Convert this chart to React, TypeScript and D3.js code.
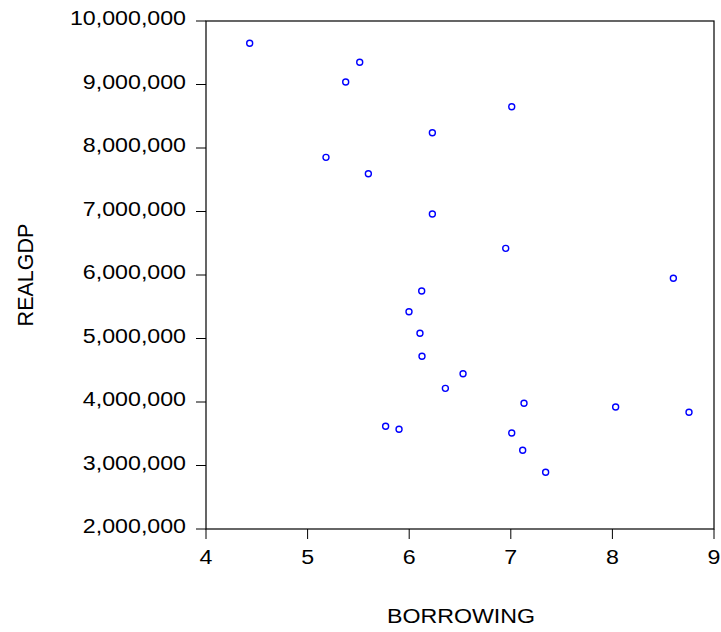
import React from 'react';
import * as d3 from 'd3';

// BORROWING vs REALGDP
const borrowing = [
  4.43, 5.513, 5.375, 7.009, 6.228, 5.181, 5.598, 6.228, 6.95, 8.6, 6.123, 5.998,
  6.106, 6.126, 6.53, 6.356, 7.13, 8.032, 8.754, 5.768, 5.9, 7.009, 7.117, 7.343,
];
const realgdp = [
  9649000, 9350000, 9039000, 8650000, 8241000, 7853000, 7595000, 6961000, 6420000,
  5948000, 5748000, 5422000, 5082000, 4720000, 4446000, 4215000, 3980000, 3921000,
  3838000, 3617000, 3570000, 3512000, 3239000, 2893000,
];
const xTicks = [4, 5, 6, 7, 8, 9];
const yTicks = [2000000, 3000000, 4000000, 5000000, 6000000, 7000000, 8000000, 9000000, 10000000];

const width = 721;
const height = 632;
const margin = { top: 21, right: 7, bottom: 103, left: 206 };
const font = 'Liberation Sans, Arial, sans-serif';
const stretch = 1.16;

const App: React.FC = () => {
  const x = d3.scaleLinear().domain([4, 9]).range([margin.left, width - margin.right]);
  const y = d3.scaleLinear().domain([2000000, 10000000]).range([height - margin.bottom, margin.top]);
  const fmt = d3.format(',');
  const tickLen = 10;
  const [x0, x1] = x.range();
  const [y0, y1] = y.range();

  return (
    <svg
      width={width}
      height={height}
      style={{ position: 'absolute', left: 0, top: 0, background: '#fff' }}
      fontFamily={font}
    >
      {/* frame */}
      <rect x={x0} y={y1} width={x1 - x0} height={y0 - y1} fill="none" stroke="#000" strokeWidth={1.2} />

      {/* y axis */}
      {yTicks.map(t => (
        <g key={t}>
          <line x1={x0 - tickLen} x2={x0} y1={y(t)} y2={y(t)} stroke="#000" strokeWidth={1} />
          <text
            transform={`translate(${x0 - 20},${y(t) + 4}) scale(${stretch},1)`}
            textAnchor="end"
            fontSize={20}
            fill="#000"
          >
            {fmt(t)}
          </text>
        </g>
      ))}

      {/* x axis */}
      {xTicks.map(t => (
        <g key={t}>
          <line x1={x(t)} x2={x(t)} y1={y0} y2={y0 + tickLen} stroke="#000" strokeWidth={1} />
          <text
            transform={`translate(${x(t)},${y0 + 34.5}) scale(${stretch},1)`}
            textAnchor="middle"
            fontSize={20}
            fill="#000"
          >
            {t}
          </text>
        </g>
      ))}

      {/* axis titles */}
      <text
        transform={`translate(${(x0 + x1) / 2 + 1},623) scale(${stretch},1)`}
        textAnchor="middle"
        fontSize={20}
        fill="#000"
      >
        BORROWING
      </text>
      <text
        transform={`translate(33,${(y0 + y1) / 2}) rotate(-90)`}
        textAnchor="middle"
        fontSize={21.5}
        fill="#000"
      >
        REALGDP
      </text>

      {/* points */}
      {borrowing.map((b, i) => (
        <circle
          key={i}
          cx={x(b)}
          cy={y(realgdp[i])}
          r={3}
          fill="none"
          stroke="#0000ff"
          strokeWidth={1.4}
        />
      ))}
    </svg>
  );
};

export default App;
